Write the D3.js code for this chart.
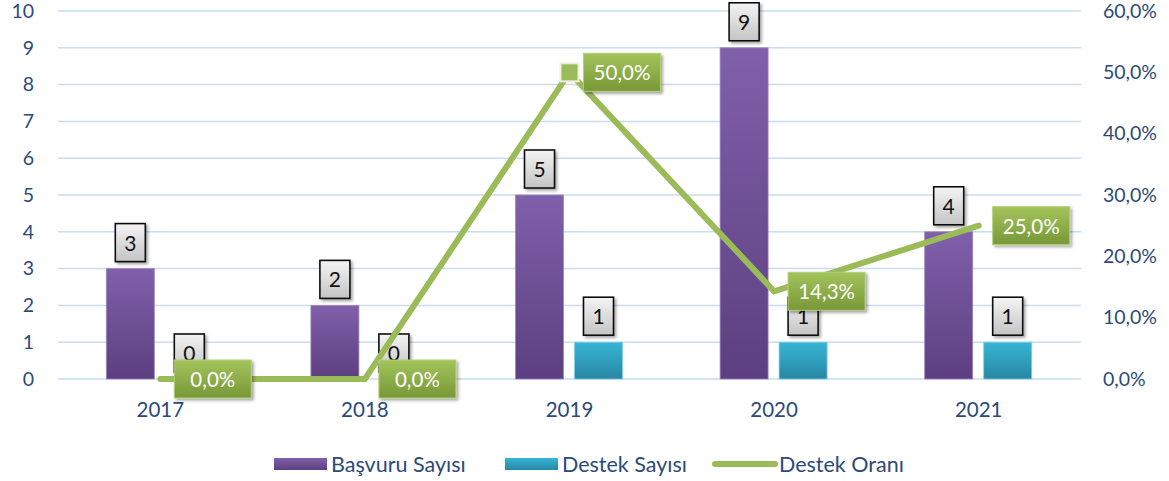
<!DOCTYPE html>
<html>
<head>
<meta charset="utf-8">
<script src="https://cdn.jsdelivr.net/npm/d3@7"></script>
<style>
  body { margin: 0; background: #fff; }
  text { font-family: Lato, "Open Sans", sans-serif; }
</style>
</head>
<body>
<svg id="chart" width="1169" height="481"></svg>
<script>
// data
var years = ["2017", "2018", "2019", "2020", "2021"];
var basvuru = [3, 2, 5, 9, 4];
var destek = [0, 0, 1, 1, 1];
var oran = [0, 0, 0.5, 0.143, 0.25];
var leftTicks = [0, 1, 2, 3, 4, 5, 6, 7, 8, 9, 10];
var rightTicks = [0, 0.1, 0.2, 0.3, 0.4, 0.5, 0.6];

var svg = d3.select("#chart"),
    margin = {top: 11, left: 58, bottom: 102, right: 88},
    width = +svg.attr("width"),
    height = +svg.attr("height");

var axisColor = "#2b4a7c";
var fmtPct = v => d3.format(".1f")(v * 100).replace(".", ",") + "%";

var defs = svg.append("defs");
function grad(id, c1, c2) {
  var g = defs.append("linearGradient").attr("id", id)
    .attr("x1", 0).attr("y1", 0).attr("x2", 0).attr("y2", 1);
  g.append("stop").attr("offset", "0%").attr("stop-color", c1);
  g.append("stop").attr("offset", "100%").attr("stop-color", c2);
}
grad("gPurple", "#8060ab", "#5c3f80");
grad("gBlue", "#37b5d6", "#2787a3");
grad("gGreen", "#a3c45b", "#789838");
grad("gBox", "#f4f4f4", "#c4c4c4");
var sh = defs.append("filter").attr("id", "shadow")
  .attr("x", "-30%").attr("y", "-30%").attr("width", "160%").attr("height", "160%");
sh.append("feDropShadow").attr("dx", 2).attr("dy", 2).attr("stdDeviation", 1.5)
  .attr("flood-color", "#000").attr("flood-opacity", 0.35);

var x = d3.scaleBand()
  .domain(years)
  .range([margin.left, width - margin.right]);

var y = d3.scaleLinear()
  .domain([0, 10])
  .range([height - margin.bottom, margin.top]);

var y2 = d3.scaleLinear()
  .domain([0, 0.6])
  .range([height - margin.bottom, margin.top]);

var x1 = d3.scaleBand()
  .domain(["b", "d"])
  .range([-54, 53])
  .paddingInner(0.186);

// gridlines
svg.append("g")
  .selectAll("line")
  .data(leftTicks)
  .enter().append("line")
  .attr("x1", margin.left)
  .attr("x2", width - margin.right)
  .attr("y1", d => y(d))
  .attr("y2", d => y(d))
  .attr("stroke", "#c9dcf0")
  .attr("stroke-width", 1.5);

// left axis
var yAxis = svg.append("g")
  .attr("transform", `translate(${margin.left - 24},0)`)
  .call(d3.axisLeft(y).tickValues(leftTicks).tickSize(0).tickPadding(0));
yAxis.select(".domain").remove();
yAxis.selectAll("text").attr("fill", axisColor).style("font-size", "19.5px");

// right axis
var y2Axis = svg.append("g")
  .attr("transform", `translate(${width - margin.right + 22},0)`)
  .call(d3.axisRight(y2).tickValues(rightTicks).tickFormat(fmtPct).tickSize(0).tickPadding(0));
y2Axis.select(".domain").remove();
y2Axis.selectAll("text").attr("fill", axisColor).style("font-size", "19.5px");

// x axis
var xAxis = svg.append("g")
  .attr("transform", `translate(0,${height - margin.bottom + 38})`)
  .call(d3.axisBottom(x).tickSize(0).tickPadding(0));
xAxis.select(".domain").remove();
xAxis.selectAll("text").attr("dy", null).attr("y", 0)
  .attr("fill", axisColor).style("font-size", "20.5px");

var rows = years.map((yr, i) => ({year: yr, b: basvuru[i], d: destek[i], o: oran[i]}));

// bars
var groups = svg.selectAll("g.yr")
  .data(rows)
  .enter().append("g")
  .attr("class", "yr")
  .attr("transform", d => `translate(${x(d.year) + x.bandwidth() / 2},0)`);

groups.append("rect")
  .attr("x", x1("b"))
  .attr("width", x1.bandwidth())
  .attr("y", d => y(d.b))
  .attr("height", d => y(0) - y(d.b))
  .attr("fill", "url(#gPurple)")
  .attr("stroke", "#9d86c0").attr("stroke-width", 0.8);

groups.filter(d => d.d > 0).append("rect")
  .attr("x", x1("d"))
  .attr("width", x1.bandwidth())
  .attr("y", d => y(d.d))
  .attr("height", d => y(0) - y(d.d))
  .attr("fill", "url(#gBlue)")
  .attr("stroke", "#7fd0e6").attr("stroke-width", 0.8);

// bar value boxes
function valueBox(g, key) {
  var bx = g.append("g")
    .attr("transform", d => `translate(${x1(key) + x1.bandwidth() / 2},${y(d[key]) - 7 - 38})`);
  bx.append("rect")
    .attr("x", -15).attr("width", 30).attr("height", 38)
    .attr("fill", "url(#gBox)")
    .attr("stroke", "#111").attr("stroke-width", 1.6)
    .attr("filter", "url(#shadow)");
  bx.append("text")
    .attr("text-anchor", "middle")
    .attr("y", 27)
    .style("font-size", "21px")
    .attr("fill", "#111")
    .text(d => d[key]);
}
valueBox(groups, "b");
valueBox(groups, "d");

// line
var line = d3.line()
  .x(d => x(d.year) + x.bandwidth() / 2)
  .y(d => y2(d.o));

svg.append("path")
  .datum(rows)
  .attr("d", line)
  .attr("fill", "none")
  .attr("stroke", "#9bbb59")
  .attr("stroke-width", 6)
  .attr("stroke-linecap", "round")
  .attr("stroke-linejoin", "miter");

// marker at the peak
var peak = rows[d3.maxIndex(rows, d => d.o)];
svg.append("rect")
  .attr("x", x(peak.year) + x.bandwidth() / 2 - 9)
  .attr("y", y2(peak.o) - 9)
  .attr("width", 18).attr("height", 18)
  .attr("fill", "#9bbb59")
  .attr("stroke", "#eef0df").attr("stroke-width", 2);

// line labels
var lbl = svg.selectAll("g.lbl")
  .data(rows)
  .enter().append("g")
  .attr("class", "lbl")
  .attr("transform", d => `translate(${x(d.year) + x.bandwidth() / 2 + 14},${y2(d.o) - 19})`);
lbl.append("rect")
  .attr("width", 77).attr("height", 38)
  .attr("fill", "url(#gGreen)")
  .attr("stroke", "#b3cf78").attr("stroke-width", 1)
  .attr("filter", "url(#shadow)");
lbl.append("text")
  .attr("x", 38.5).attr("y", 27)
  .attr("text-anchor", "middle")
  .attr("fill", "#fff")
  .style("font-size", "20.5px")
  .text(d => fmtPct(d.o));

// legend
var legend = svg.append("g").attr("transform", "translate(0,464)");
var items = [
  {name: "Başvuru Sayısı", x: 274, type: "rect", fill: "url(#gPurple)"},
  {name: "Destek Sayısı", x: 505, type: "rect", fill: "url(#gBlue)"},
  {name: "Destek Oranı", x: 712, type: "line", fill: "#9bbb59"}
];
items.forEach(it => {
  if (it.type === "rect") {
    legend.append("rect").attr("x", it.x).attr("y", -6).attr("width", 53).attr("height", 12)
      .attr("fill", it.fill);
    legend.append("text").attr("x", it.x + 57).attr("y", 7.5)
      .attr("fill", axisColor).style("font-size", "21.5px").text(it.name);
  } else {
    legend.append("line").attr("x1", it.x + 3).attr("x2", it.x + 63).attr("y1", 0).attr("y2", 0)
      .attr("stroke", it.fill).attr("stroke-width", 6).attr("stroke-linecap", "round");
    legend.append("text").attr("x", it.x + 67).attr("y", 7.5)
      .attr("fill", axisColor).style("font-size", "21.5px").text(it.name);
  }
});
</script>
</body>
</html>
